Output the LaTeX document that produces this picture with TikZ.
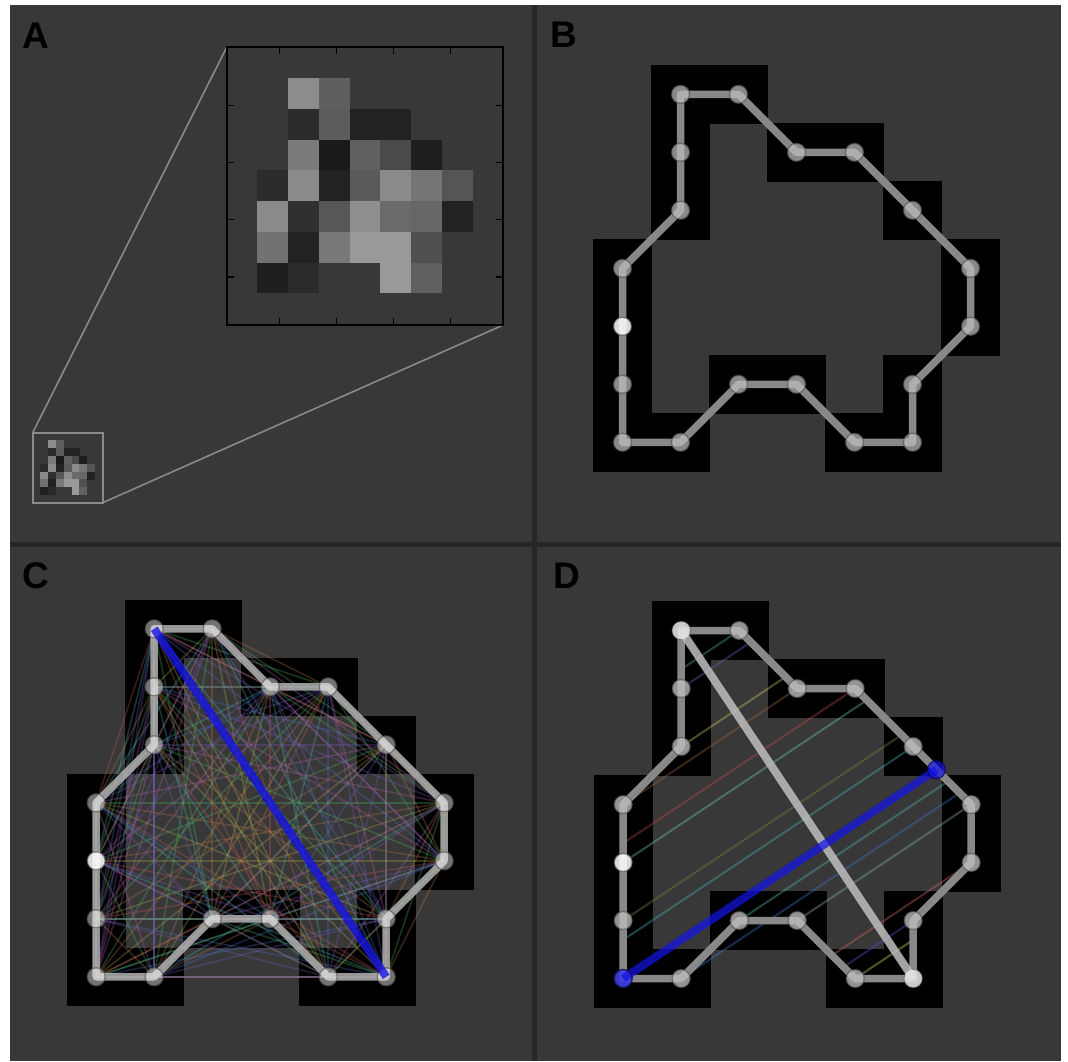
\documentclass[tikz,border=0pt]{standalone}
\usepackage{fontspec}
\setmainfont{Liberation Sans}
\definecolor{bgc}{HTML}{383838}
\definecolor{divc}{HTML}{262626}
\definecolor{edgec}{HTML}{888888}
\definecolor{zoomc}{HTML}{8A8A8A}
\definecolor{bluec}{HTML}{1414E6}
\definecolor{nodec}{HTML}{BEBEBE}
\definecolor{pal0}{HTML}{C05858}
\definecolor{pal1}{HTML}{50B060}
\definecolor{pal2}{HTML}{5070C0}
\definecolor{pal3}{HTML}{B0A850}
\definecolor{pal4}{HTML}{B060A8}
\definecolor{pal5}{HTML}{50B0B0}
\definecolor{pal6}{HTML}{B07848}
\definecolor{pal7}{HTML}{7858B8}
\definecolor{dA}{HTML}{5FA090}
\definecolor{dB}{HTML}{7060B0}
\definecolor{dC}{HTML}{C8C060}
\definecolor{dD}{HTML}{906040}
\definecolor{dE}{HTML}{C04848}
\definecolor{dF}{HTML}{70C0B0}
\definecolor{dG}{HTML}{808040}
\definecolor{dH}{HTML}{40B0B0}
\definecolor{dI}{HTML}{60B0B0}
\definecolor{dJ}{HTML}{4070C0}
\definecolor{dK}{HTML}{80B090}
\definecolor{dL}{HTML}{D06060}
\definecolor{dM}{HTML}{5050D0}
\definecolor{dN}{HTML}{D0D060}
\tikzset{
  lbl/.style={anchor=base west, inner sep=0pt, font=\fontsize{37}{40}\selectfont\bfseries, text=black},
  contour/.style={draw=edgec, line width=7.5pt, line join=round, line cap=round},
  contourC/.style={draw=white!70!black, draw opacity=0.85, line width=7.5pt, line join=round, line cap=round},
  vtx/.style={circle, minimum size=18pt, inner sep=0pt, fill=nodec, fill opacity=0.72, draw=black!70, draw opacity=0.6, line width=1.3pt},
  vtxhi/.style={vtx, fill=white, fill opacity=0.85},
  vtxblue/.style={circle, minimum size=18pt, inner sep=0pt, fill=bluec, fill opacity=0.7, draw=black!70!blue, draw opacity=0.6, line width=1.3pt},
  bluethick/.style={draw=bluec, draw opacity=0.72, line width=8pt},
  diam/.style={draw=white!75!black, draw opacity=0.85, line width=8pt},
  pairln/.style={line width=1.6pt, draw opacity=0.3},
  chordln/.style={line width=2pt, draw opacity=0.4},
  tickln/.style={draw=black, line width=1.4pt},
  zoomln/.style={draw=zoomc, line width=1.6pt}
}
\newcommand{\mkpanel}[3]{%
  \foreach \c/\r [count=\k] in {1/0,2/0,3/1,4/1,5/2,6/3,6/4,5/5,5/6,4/6,3/5,2/5,1/6,0/6,0/5,0/4,0/3,1/2,1/1}{%
    \coordinate (#1\k) at ({#2+58*\c},{#3+58*\r});
    \fill[black] ({#2+58*\c-29.3},{#3+58*\r-29.3}) rectangle +(58.6,58.6);
  }%
}
\begin{document}
\begin{tikzpicture}[x=1pt,y=-1pt]
\useasboundingbox (0,0) rectangle (1068,1061);
\fill[white] (0,0) rectangle (1068,1061);
\fill[bgc] (10,5) rectangle (1061,1061);
\fill[divc] (532,5) rectangle (537,1061);
\fill[divc] (10,542) rectangle (1061,547);

% ---------------- Panel A ----------------
\node[lbl] (labA) at (22.4,48.7) {A};
\coordinate (smTL) at (32.7,432.7);
\coordinate (smBR) at (102.7,502.7);
\coordinate (inTL) at (226.7,47.3);
\coordinate (inBR) at (503.3,325);
\draw[zoomln] (smTL) -- (inTL);
\draw[zoomln] (smBR) -- (inBR);
\foreach \c/\r/\g in {1/0/140,2/0/95,
  1/1/44,2/1/92,3/1/34,4/1/34,
  1/2/122,2/2/26,3/2/96,4/2/74,5/2/30,
  0/3/44,1/3/138,2/3/34,3/3/90,4/3/138,5/3/117,6/3/85,
  0/4/138,1/4/48,2/4/87,3/4/142,4/4/106,5/4/102,6/4/34,
  0/5/114,1/5/34,2/5/120,3/5/153,4/5/153,5/5/80,
  0/6/31,1/6/42,4/6/153,5/6/96}{%
  \definecolor{pxc}{RGB}{\g,\g,\g}
  \fill[pxc] ({226.7+30.73*(\c+1)},{47.4+30.73*(\r+1)}) rectangle +(30.9,30.9);
  \fill[pxc] ({32.7+7.78*(\c+1)},{432.7+7.78*(\r+1)}) rectangle +(7.9,7.9);
}
\draw[draw=black, line width=2pt] (inTL) rectangle (inBR);
\draw[zoomln] (smTL) rectangle (smBR);
\foreach \t in {279.3,336.3,393.3,450.7}{
  \draw[tickln] (\t,47.3) -- ++(0,7);
  \draw[tickln] (\t,325) -- ++(0,-7);
}
\foreach \t in {105.3,162.3,219.7,277}{
  \draw[tickln] (226.7,\t) -- ++(7,0);
  \draw[tickln] (503.3,\t) -- ++(-7,0);
}

% ---------------- Panel B ----------------
\node[lbl] (labB) at (550,47.8) {B};
\mkpanel{b}{622.5}{94.3}
\draw[contour] (b1) foreach \k in {2,...,19}{ -- (b\k)} -- cycle;
\foreach \k in {1,...,19}{
  \ifnum\k=16
    \node[vtxhi] (bn\k) at (b\k) {};
  \else
    \node[vtx] (bn\k) at (b\k) {};
  \fi
}

% ---------------- Panel C ----------------
\node[lbl] (labC) at (21.8,588.6) {C};
\mkpanel{c}{96.2}{628.8}
\foreach \i in {1,...,18}{
  \pgfmathtruncatemacro\jstart{\i+1}
  \foreach \j in {\jstart,...,19}{
    \pgfmathtruncatemacro\cidx{mod(\i*5+\j*3,8)}
    \draw[pairln, draw=pal\cidx] (c\i) -- (c\j);
  }
}
\draw[contourC] (c1) foreach \k in {2,...,19}{ -- (c\k)} -- cycle;
\foreach \k in {1,...,19}{
  \ifnum\k=16
    \node[vtxhi] (cn\k) at (c\k) {};
  \else
    \node[vtx, fill=white, fill opacity=0.45] (cn\k) at (c\k) {};
  \fi
}
\draw[bluethick, draw opacity=0.8] (c1) -- (c9);

% ---------------- Panel D ----------------
\node[lbl] (labD) at (553.3,588.8) {D};
\mkpanel{d}{623.2}{630.5}
\foreach \n/\ua/\va/\ub/\vb/\col in {4/1/0.6667/2/0/dA,5/1/1/2.2/0.2/dB,8/1/2/2.8/0.8/dC,
  9/0/3/3/1/dD,11/0/3.6667/4/1/dE,12/0/4/4.2/1.2/dF,15/0/5/4.8/1.8/dG,16/0/5.3333/5/2/dH,
  19/2/5/5.6/2.6/dI,20/1/6/5.8/2.8/dJ,21/3/5/6/3/dK,24/3.6/5.6/6/4/dL,25/3.8/5.8/5/5/dM,
  26/4/6/5/5.3333/dN}{
  \coordinate (chA\n) at ({623.2+58*\ua},{630.5+58*\va});
  \coordinate (chB\n) at ({623.2+58*\ub},{630.5+58*\vb});
  \draw[chordln, draw=\col] (chA\n) -- (chB\n);
}
\coordinate (dw) at ({623.2+58*5.4},{630.5+58*2.4});
\draw[contour] (d1) foreach \k in {2,...,19}{ -- (d\k)} -- cycle;
\foreach \k in {1,...,19}{
  \ifnum\k=16
    \node[vtxhi] (dn\k) at (d\k) {};
  \else
    \node[vtx, fill opacity=0.78] (dn\k) at (d\k) {};
  \fi
}
\draw[diam] (d1) -- (d9);
\node[vtxhi, draw=none, fill opacity=0.5] (dh1) at (d1) {};
\node[vtxhi, draw=none, fill opacity=0.5] (dh9) at (d9) {};
\draw[bluethick] (d14) -- (dw);
\node[vtxblue] (dbn1) at (d14) {};
\node[vtxblue] (dbn2) at (dw) {};
\end{tikzpicture}
\end{document}
